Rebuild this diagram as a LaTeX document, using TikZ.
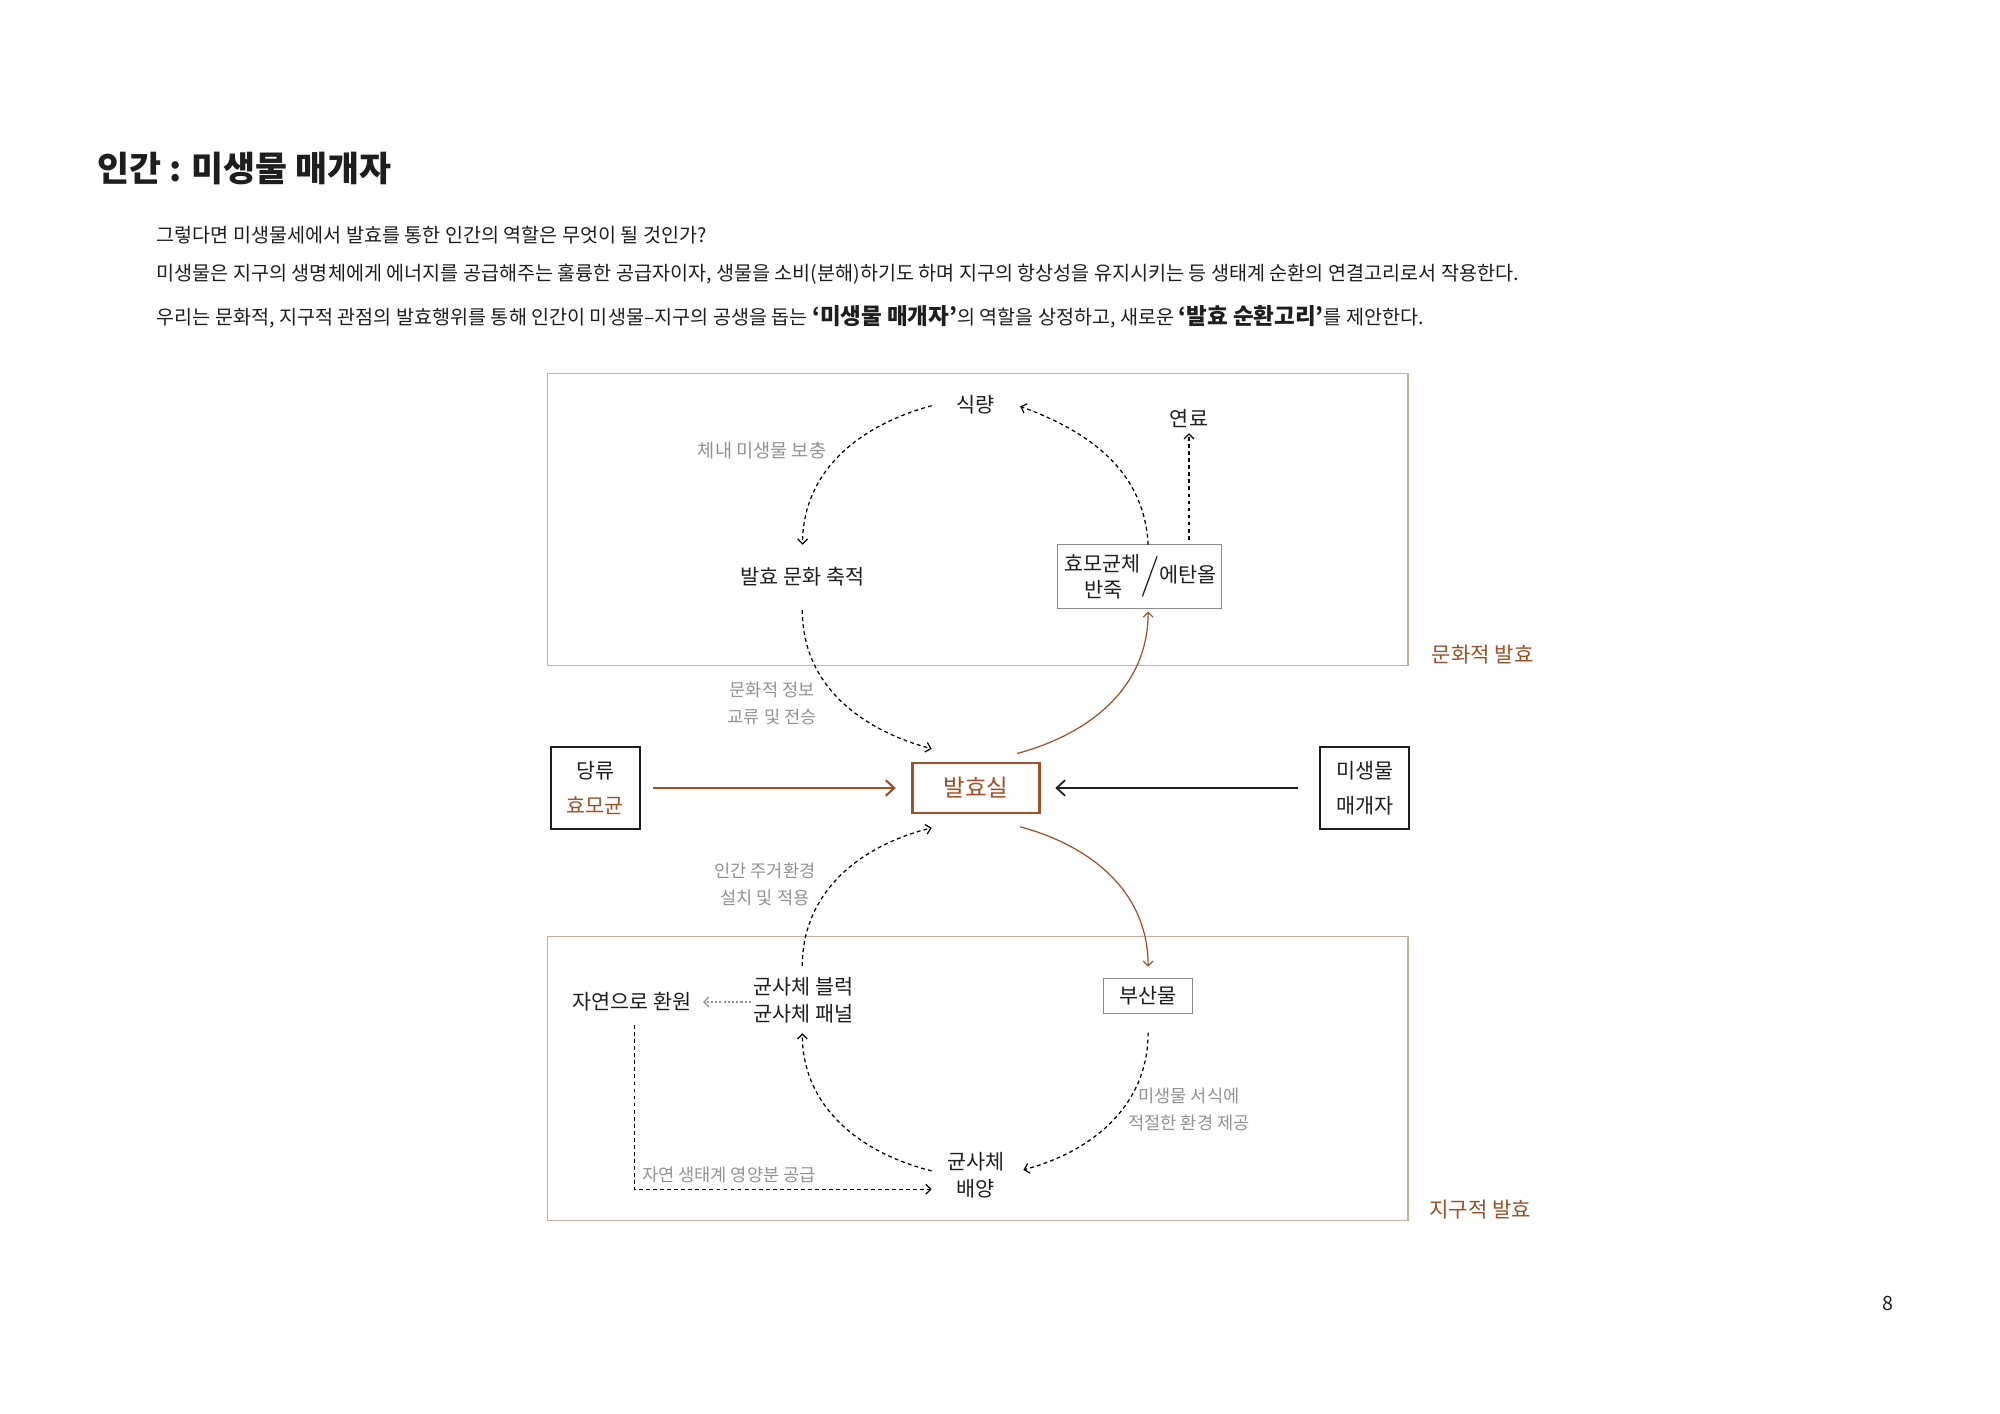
\documentclass[tikz,border=0pt]{standalone}
\usepackage{fontspec}
\setmainfont{Noto Sans CJK KR}
\usetikzlibrary{arrows.meta,positioning,calc}

\definecolor{ink}{HTML}{1E1E1E}
\definecolor{ferm}{HTML}{A14F24}
\definecolor{framecol}{HTML}{C9B09E}
\definecolor{notegray}{HTML}{929292}
\definecolor{boxgray}{HTML}{8A8A8A}

\begin{document}
\begin{tikzpicture}[%
    x=0.12771mm, y=0.12771mm,
    >={Straight Barb[length=1.4pt,width=2.8pt]},
    every node/.style={inner sep=0pt, outer sep=0pt, text=ink},
    body/.style={font=\fontsize{5.58}{7}\selectfont, anchor=west},
    word/.style={font=\fontsize{5.9}{7.75}\selectfont, align=center},
    remark/.style={font=\fontsize{5}{7.6}\selectfont, text=notegray, align=center},
    phase/.style={font=\fontsize{6}{7}\selectfont, text=ferm},
    panel/.style={draw=framecol, line width=0.35pt},
    cell/.style={draw=ink, line width=0.45pt, word, font=\fontsize{5.9}{9.97}\selectfont,
      minimum width=8.9mm, minimum height=8.2mm},
    thinbox/.style={draw=boxgray, line width=0.35pt},
    dashline/.style={dash pattern=on 1.1pt off 0.9pt, line width=0.35pt},
    dotline/.style={dash pattern=on 0.6pt off 0.6pt, line width=0.35pt, draw=notegray},
    feed/.style={line width=0.6pt, -{Straight Barb[length=2.4pt,width=4.4pt]}},
  ]
  \useasboundingbox (0,0) rectangle (1566,-1107);

  % heading
  \node[anchor=west, font=\bfseries\fontsize{9.9}{12}\selectfont] (title) at (76,-131.8) {인간 : 미생물 매개자};
  \node[body] (line1) at (122.8,-184) {그렇다면 미생물세에서 발효를 통한 인간의 역할은 무엇이 될 것인가?};
  \node[body] (line2) at (122.8,-215) {미생물은 지구의 생명체에게 에너지를 공급해주는 훌륭한 공급자이자, 생물을 소비(분해)하기도 하며 지구의 항상성을 유지시키는 등 생태계 순환의 연결고리로서 작용한다.};
  \node[body] (line3) at (122.8,-248) {우리는 문화적, 지구적 관점의 발효행위를 통해 인간이 미생물–지구의 공생을 돕는 {\bfseries\fontsize{6.4}{8}\selectfont ‘미생물 매개자’}의 역할을 상정하고, 새로운 {\bfseries\fontsize{6.4}{8}\selectfont ‘발효 순환고리’}를 제안한다.};

  % frames
  \draw[panel] (428.6,-292.7) rectangle (1102.5,-521.1);
  \draw[panel] (428.6,-733) rectangle (1102.5,-955.4);
  \node[phase] (culture) at (1161,-512.6) {문화적 발효};
  \node[phase] (earth) at (1159,-947.4) {지구적 발효};

  % cultural fermentation
  \node[word] (food) at (763.6,-317) {식량};
  \node[word] (fuel) at (931,-328.1) {연료};
  \node[remark, font=\fontsize{5.3}{7}\selectfont] (refill) at (596.7,-352.7) {체내 미생물 보충};
  \node[word] (accum) at (628.4,-451.2) {발효 문화 축적};
  \node[thinbox, minimum width=16.43mm, minimum height=6.42mm] (yeastbox) at (892.3,-451.6) {};
  \node[word] (yeast) at (863,-441.4) {효모균체};
  \node[word] (dough) at (864,-461.7) {반죽};
  \node[word] (ethanol) at (930,-450) {에탄올};
  \draw[ink, line width=0.35pt] (906,-435.6) -- (894.5,-467);

  % centre row
  \node[cell] (sugar) at (466.2,-617) {당류\\{\color{ferm}효모균}};
  \node[draw=ferm, line width=0.75pt, minimum width=12.69mm, minimum height=5.03mm,
    text=ferm, font=\fontsize{6.7}{8}\selectfont] (ferment) at (764.1,-617) {발효실};
  \node[cell] (agent) at (1068.6,-617) {미생물\\매개자};
  \node[remark] (share) at (604.6,-550.8) {문화적 정보\\교류 및 전승};
  \node[remark] (house) at (599,-692.5) {인간 주거환경\\설치 및 적용};

  % earthly fermentation
  \node[thinbox, word, minimum width=8.94mm, minimum height=3.51mm] (byprod) at (899,-779.8) {부산물};
  \node[word] (mycblock) at (629.4,-783) {균사체 블럭\\균사체 패널};
  \node[word] (nature) at (495,-784.6) {자연으로 환원};
  \node[word] (growth) at (764,-920.5) {균사체\\배양};
  \node[remark] (habitat) at (931,-868.6) {미생물 서식에\\적절한 환경 제공};
  \node[remark, anchor=west] (nutrient) at (502.8,-920.2) {자연 생태계 영양분 공급};

  \node[font=\fontsize{5.6}{7}\selectfont] (page) at (1478,-1021) {8};

  % connectors
  \draw[dashline,->] ([shift={(-34.1,-0.7)}]food.center) to[out=195,in=90] ([shift={(0,24.7)}]accum.center);
  \draw[dashline,->] ([shift={(6.7,0)}]yeastbox.north) to[out=93,in=-20] ([shift={(35.2,-1.2)}]food.center);
  \draw[dashline,->] ($(yeastbox.north -| fuel)+(0,4)$) -- ([shift={(0,-11)}]fuel.center);
  \draw[dashline,->] ([shift={(-0.2,-26.6)}]accum.center) to[out=-90,in=165] ([shift={(-34.6,30.7)}]ferment.center);
  \draw[ferm, line width=0.35pt, ->] ([shift={(32.2,27)}]ferment.center) to[out=15,in=-90] ([shift={(6.7,-2)}]yeastbox.south);

  \draw[feed, ferm, shorten <=1.34mm, shorten >=1.66mm] (sugar) -- (ferment);
  \draw[feed, ink, line width=0.5pt, shorten <=2.26mm, shorten >=1.6mm] (agent) -- (ferment);

  \draw[dashline,->] ([shift={(-1.2,26.6)}]mycblock.center) to[out=90,in=194] ([shift={(-34.6,-31.2)}]ferment.center);
  \draw[ferm, line width=0.35pt, ->] ([shift={(34.7,-30.4)}]ferment.center) to[out=-15,in=90] ([shift={(0,22.8)}]byprod.center);
  \draw[dashline,->] ([shift={(0,-28.7)}]byprod.center) to[out=-90,in=15] ([shift={(37.3,4.5)}]growth.center);
  \draw[dashline,->] ([shift={(-34.5,3.7)}]growth.center) to[out=166,in=-90] ([shift={(-1.2,-26)}]mycblock.center);
  \draw[dotline,->] ([shift={(-41.4,-1.6)}]mycblock.center) -- ([shift={(55.5,0)}]nature.center);
  \draw[dashline,->] ([shift={(1.8,-18.2)}]nature.center) |- ([shift={(-34.5,-10.7)}]growth.center);

  \end{tikzpicture}
\end{document}
